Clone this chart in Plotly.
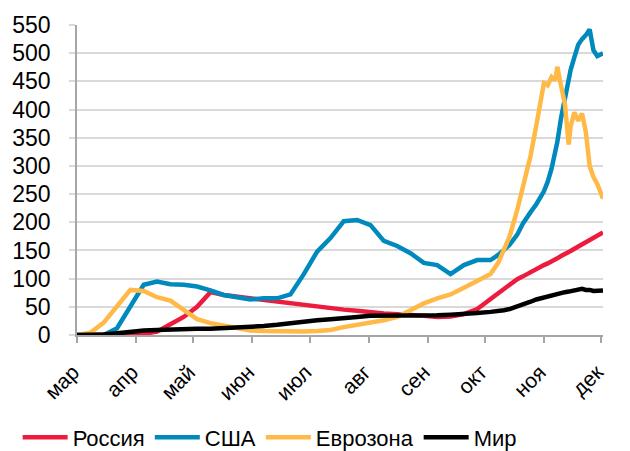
import plotly.graph_objects as go

# sample dates (daily series at these points)
dates = ["2020-03-01", "2020-03-08", "2020-03-15", "2020-03-22", "2020-03-29",
         "2020-04-05", "2020-04-12", "2020-04-19", "2020-04-26", "2020-05-03",
         "2020-05-10", "2020-05-17", "2020-05-24", "2020-05-31", "2020-06-07",
         "2020-06-14", "2020-06-21", "2020-06-28", "2020-07-05", "2020-07-12",
         "2020-07-19", "2020-07-26", "2020-08-02", "2020-08-09", "2020-08-16",
         "2020-08-23", "2020-08-30", "2020-09-06", "2020-09-13", "2020-09-20",
         "2020-09-27",
         "2020-10-04", "2020-10-08", "2020-10-11", "2020-10-14", "2020-10-18",
         "2020-10-21", "2020-10-25", "2020-10-28", "2020-11-01", "2020-11-03",
         "2020-11-05", "2020-11-07", "2020-11-08", "2020-11-10", "2020-11-12",
         "2020-11-14", "2020-11-15", "2020-11-17", "2020-11-19", "2020-11-21",
         "2020-11-23", "2020-11-25", "2020-11-27", "2020-11-29", "2020-12-02"]

russia = [0, 0, 0, 0, 1, 2, 6, 19, 32, 50, 76, 71, 68, 64, 62,
          60, 56, 52, 49, 47, 45, 43, 40, 38, 37, 36, 34, 32, 33, 37,
          46,
          64, 74, 82, 90, 99, 104, 112, 118, 124, 127, 130, 134, 136, 140, 143,
          147, 149, 153, 157, 160, 164, 168, 172, 176, 182]

usa = [0, 0, 0, 12, 50, 89, 95, 90, 89, 86, 79, 71, 67, 63, 65,
       65, 72, 108, 148, 172, 202, 204, 195, 167, 158, 145, 128, 124, 108, 124,
       133,
       133, 142, 150, 160, 178, 198, 218, 232, 255, 272, 295, 325, 342, 385, 420,
       458, 470, 493, 515, 525, 532, 542, 505, 495, 500]

eurozone = [0, 4, 22, 50, 80, 78, 67, 61, 45, 28, 21, 16, 12, 8, 7,
            6, 6, 6, 7, 9, 14, 18, 22, 26, 32, 45, 56, 65, 72, 84,
            96,
            108, 128, 150, 175, 222, 262, 318, 372, 447, 443, 458, 452, 476, 442, 410,
            338, 370, 395, 380, 393, 360, 300, 280, 268, 242]

world = [0, 0, 1, 3, 6, 8, 9, 10, 11, 11, 11, 12, 13, 15, 16,
         18, 21, 24, 26, 28, 31, 32, 34, 34, 35, 35, 35, 35, 36, 37,
         39,
         41, 42, 44, 46, 50, 54, 59, 63, 67, 69, 71, 73, 74, 75, 76,
         77, 78, 79, 81, 82, 80, 80, 78, 78, 79]

month_ticks = ["2020-03-01", "2020-04-01", "2020-05-01", "2020-06-01", "2020-07-01",
               "2020-08-01", "2020-09-01", "2020-10-01", "2020-11-01", "2020-12-01"]
month_labels = ["мар", "апр", "май", "июн", "июл", "авг", "сен", "окт", "ноя", "дек"]

series = [("Россия", russia, "#ED1C3F"),
          ("США", usa, "#0089BC"),
          ("Еврозона", eurozone, "#FFB947"),
          ("Мир", world, "#000000")]

fig = go.Figure()
for name, vals, col in series:
    fig.add_trace(go.Scatter(x=dates, y=vals, name=name, mode="lines",
                             line=dict(color=col, width=4.5)))

fig.update_layout(
    width=630, height=451,
    margin=dict(l=77, r=27, t=22, b=113),
    plot_bgcolor="white", paper_bgcolor="white",
    font=dict(family="Liberation Sans, Arial, sans-serif", size=21, color="black"),
    showlegend=True,
    legend=dict(orientation="h", xref="container", yref="container",
                x=0.028, xanchor="left", y=0.03, yanchor="middle",
                itemwidth=45, font=dict(size=22), traceorder="normal"),
)
fig.update_xaxes(
    range=["2020-03-01", "2020-12-02"],
    tickvals=month_ticks, ticktext=month_labels, tickangle=-45,
    showgrid=False, showline=True, linecolor="#A6A6A6", linewidth=1.5,
    ticks="outside", ticklen=6, tickcolor="#A6A6A6", tickwidth=1.5,
    ticklabelstandoff=9, ticklabelshift=-4,
    tickfont=dict(size=21),
)
fig.update_yaxes(
    range=[0, 550], dtick=50,
    showgrid=True, gridcolor="#D9D9D9", gridwidth=1.5,
    showline=True, linecolor="#A6A6A6", linewidth=1.5,
    ticks="outside", ticklen=6, tickcolor="#D9D9D9", tickwidth=1.5,
    ticklabelstandoff=14, tickfont=dict(size=23), zeroline=False,
)

# page body has a default 8px margin, drop it so the figure sits at 0,0
fig.write_html("out.html", config={"displayModeBar": False},
               post_script="document.body.style.margin='0px';")
